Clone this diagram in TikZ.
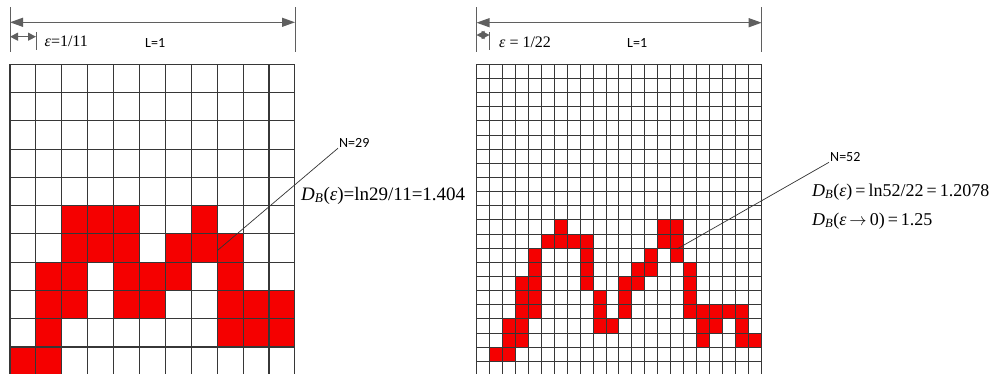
\documentclass[tikz,border=0pt]{standalone}
\usepackage{fontspec}
\setmainfont{Liberation Serif}
\newfontfamily\calfont{Carlito}
\usetikzlibrary{arrows.meta}
\definecolor{gridgray}{RGB}{55,55,55}
\definecolor{dimgray}{RGB}{95,95,95}
\definecolor{boxred}{RGB}{245,0,0}

\begin{document}
\begin{tikzpicture}[x=1pt,y=-1pt,
  gridline/.style={gridgray,line width=1.1pt},
  boxfill/.style={fill=boxred,draw=none},
  tick/.style={dimgray,line width=1pt},
  dimarrow/.style={dimgray,line width=1.1pt,{Triangle[length=13pt,width=9pt]}-{Triangle[length=13pt,width=9pt]}},
  smallarrow/.style={dimgray,line width=1.1pt,{Triangle[length=8pt,width=8pt]}-{Triangle[length=8pt,width=8pt]}},
  leader/.style={gray!40!black,line width=0.7pt},
  sanslabel/.style={font=\calfont\fontsize{14}{16}\selectfont,inner sep=1pt,anchor=base west},
  epslabel/.style={font=\fontsize{16}{18}\selectfont,inner sep=0pt,anchor=base west},
  formula/.style={font=\fontsize{18}{20}\selectfont,inner sep=0pt,anchor=base west}]
  \useasboundingbox[fill=white] (0,0) rectangle (996,373);

  % left picture, eps = 1/11
  \begin{scope}[shift={(10,64.3)},x=25.9pt,y=-28.27pt]
    \foreach \row/\cs in {5/{2,3,4,7},6/{2,3,4,6,7,8},7/{1,2,4,5,6,8},
        8/{1,2,4,5,8,9,10},9/{1,8,9,10},10/{0,1}}
      {\foreach \col in \cs {\fill[boxfill] (\col,\row) rectangle ++(1,1);}}
    \foreach \i in {0,...,11}
      {\draw[gridline] (\i,0) -- (\i,11); \draw[gridline] (0,\i) -- (11,\i);}
  \end{scope}

  % right picture, eps = 1/22
  \begin{scope}[shift={(476.7,64.3)},x=12.93pt,y=-14.14pt]
    \foreach \row/\cs in {11/{6,14,15},12/{5,6,7,8,14,15},13/{4,8,13,15},
        14/{4,8,12,13,16},15/{3,4,8,11,12,16},16/{3,4,9,11,16},
        17/{3,4,9,11,16,17,18,19,20},18/{2,3,9,10,17,18,20},
        19/{2,3,17,20,21},20/{1,2}}
      {\foreach \col in \cs {\fill[boxfill] (\col,\row) rectangle ++(1,1);}}
    \foreach \i in {0,...,22}
      {\draw[gridline,line width=0.9pt] (\i,0) -- (\i,22);
       \draw[gridline,line width=0.9pt] (0,\i) -- (22,\i);}
  \end{scope}

  % dimension lines
  \coordinate (lt) at (10,7);   \coordinate (lb) at (10,52);
  \coordinate (rt) at (295,7);  \coordinate (rb) at (295,52);
  \coordinate (et) at (36,32);  \coordinate (eb) at (36,50);
  \coordinate (la) at (10,22.3);  \coordinate (ra) at (295,22.3);
  \coordinate (le) at (10,36.7);  \coordinate (re) at (36,36.7);
  \draw[tick] (lt)--(lb); \draw[tick] (rt)--(rb); \draw[tick] (et)--(eb);
  \draw[dimarrow] (la)--(ra);
  \draw[smallarrow] (le)--(re);
  \node[epslabel] (eps11) at (44.5,46) {\textit{ε}=1/11};
  \node[sanslabel] (len11) at (144,47) {L=1};

  \coordinate (lt2) at (476.5,7);   \coordinate (lb2) at (476.5,52);
  \coordinate (rt2) at (761.7,7);   \coordinate (rb2) at (761.7,52);
  \coordinate (et2) at (489.6,32);  \coordinate (eb2) at (489.6,50);
  \coordinate (la2) at (476.5,22.7);  \coordinate (ra2) at (761.7,22.7);
  \coordinate (le2) at (476.5,35);    \coordinate (re2) at (489.6,35);
  \draw[tick] (lt2)--(lb2); \draw[tick] (rt2)--(rb2); \draw[tick] (et2)--(eb2);
  \draw[dimarrow] (la2)--(ra2);
  \draw[smallarrow] (le2)--(re2);
  \node[epslabel] (eps22) at (499,47) {\textit{ε} = 1/22};
  \node[sanslabel] (len22) at (626,47) {L=1};

  % box counts
  \coordinate (hit29) at (218,250);
  \node[sanslabel] (n29) at (338,147) {N=29};
  \draw[leader] (n29.south west)--(hit29);
  \node[formula,font=\fontsize{19}{21}\selectfont] (db11) at (301,200)
    {\textit{D}\textsubscript{\textit{B}}(\textit{ε})=ln29/11=1.404};

  \coordinate (hit52) at (677,249);
  \node[sanslabel] (n52) at (829,161) {N=52};
  \draw[leader] (n52.south west)--(hit52);
  \node[formula] (db22) at (812,196)
    {\textit{D}\textsubscript{\textit{B}}(\textit{ε})\,=\,ln52/22\,=\,1.2078};
  \node[formula] (dblim) at (812,225)
    {\textit{D}\textsubscript{\textit{B}}(\textit{ε}\,$\rightarrow$\,0)\,=\,1.25};
\end{tikzpicture}
\end{document}
